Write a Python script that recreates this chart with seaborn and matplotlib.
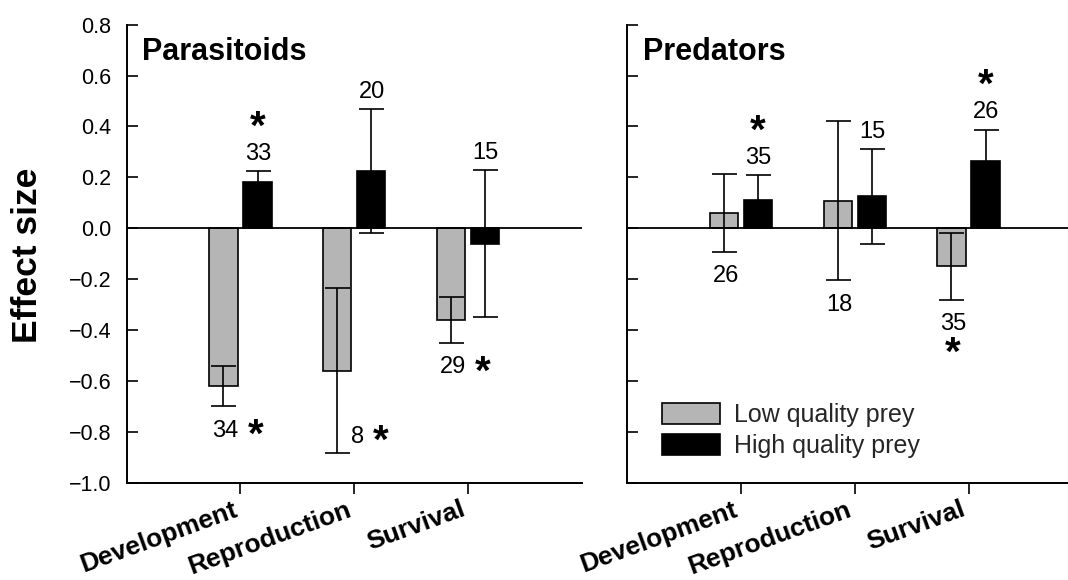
import matplotlib
matplotlib.use("Agg")
import matplotlib.pyplot as plt
import pandas as pd
import seaborn as sns

# ---- data -------------------------------------------------------------
traits = ["Development", "Reproduction", "Survival"]
qualities = ["Low quality prey", "High quality prey"]
panels = ["Parasitoids", "Predators"]

# Parasitoids: mean effect size, error half-width, number of studies, significance
para_low_mean = [-0.62, -0.56, -0.36]
para_low_err = [0.08, 0.325, 0.09]
para_high_mean = [0.18, 0.225, -0.06]
para_high_err = [0.045, 0.243, 0.287]
para_low_n = [34, 8, 29]
para_high_n = [33, 20, 15]
para_low_sig = [True, True, True]
para_high_sig = [True, False, False]

# Predators
pred_low_mean = [0.06, 0.108, -0.15]
pred_low_err = [0.152, 0.312, 0.132]
pred_high_mean = [0.113, 0.125, 0.263]
pred_high_err = [0.096, 0.187, 0.125]
pred_low_n = [26, 18, 35]
pred_high_n = [35, 15, 26]
pred_low_sig = [False, False, True]
pred_high_sig = [True, False, True]

ytick_values = [0.8, 0.6, 0.4, 0.2, 0.0, -0.2, -0.4, -0.6, -0.8, -1.0]
ytick_labels = ["0.8", "0.6", "0.4", "0.2", "0.0",
                "\u22120.2", "\u22120.4", "\u22120.6", "\u22120.8", "\u22121.0"]

# ---- style ------------------------------------------------------------
sns.set_theme(style="ticks")
plt.rcParams["font.family"] = ["Liberation Sans", "DejaVu Sans"]

GREY = "#b5b5b5"
BLACK = "#000000"
DPI = 100
W, H = 1068, 580

fig = plt.figure(figsize=(W / DPI, H / DPI), dpi=DPI)
fig.patch.set_facecolor("white")


def px(v):
    """pixels -> points"""
    return v * 72.0 / DPI


ax_w = 455 / W
ax_b = (H - 482.7) / H
ax_h = (482.7 - 24.7) / H
ax_left = fig.add_axes([126.7 / W, ax_b, ax_w, ax_h])
ax_right = fig.add_axes([627.3 / W, ax_b, ax_w, ax_h])

panel_data = {
    "Parasitoids": dict(low=(para_low_mean, para_low_err, para_low_n, para_low_sig),
                        high=(para_high_mean, para_high_err, para_high_n, para_high_sig)),
    "Predators": dict(low=(pred_low_mean, pred_low_err, pred_low_n, pred_low_sig),
                      high=(pred_high_mean, pred_high_err, pred_high_n, pred_high_sig)),
}

# where the star sits for low-quality bars, per panel
low_star_side = {"Parasitoids": "right", "Predators": "below"}
# labels placed beside the lower cap instead of below it: (panel, trait index)
beside_labels = {("Parasitoids", 1)}

NUM_SIZE = 17
STAR_SIZE = 29
num_px = NUM_SIZE * DPI / 72.0
star_px = STAR_SIZE * DPI / 72.0
DIGIT_MID = 0.358 * num_px      # visual middle of digits above baseline
STAR_MID = 0.46 * star_px       # visual middle of the asterisk above baseline


def put(ax, x, y, text, dx, dy, kind):
    """place text so its visual centre lies dx, dy pixels from (x, y)"""
    if kind == "num":
        ax.annotate(text, xy=(x, y), xytext=(px(dx), px(dy - DIGIT_MID)),
                    textcoords="offset points", ha="center", va="baseline",
                    fontsize=NUM_SIZE, color="black", annotation_clip=False)
    else:
        ax.annotate(text, xy=(x, y), xytext=(px(dx), px(dy - STAR_MID)),
                    textcoords="offset points", ha="center", va="baseline",
                    fontsize=STAR_SIZE, fontweight="bold", color="black",
                    annotation_clip=False)


for ax, panel in zip([ax_left, ax_right], panels):
    d = panel_data[panel]
    rows = []
    for q, key in zip(qualities, ["low", "high"]):
        for t, m in zip(traits, d[key][0]):
            rows.append({"trait": t, "quality": q, "effect": m})
    df = pd.DataFrame(rows)

    sns.barplot(data=df, x="trait", y="effect", hue="quality",
                order=traits, hue_order=qualities,
                palette=[GREY, BLACK], width=0.6, gap=0.17,
                edgecolor="black", linewidth=1.2, errorbar=None,
                saturation=1, ax=ax, legend=(panel == "Predators"), zorder=2)

    ax.axhline(0, color="black", lw=1.3, zorder=3)

    for ci, key in enumerate(["low", "high"]):
        means, errs, ns, sigs = d[key]
        bars = ax.containers[ci]
        xs = [b.get_x() + b.get_width() / 2 for b in bars]
        ax.errorbar(xs, means, yerr=errs, fmt="none", ecolor="black",
                    elinewidth=1.2, capsize=px(12.5), capthick=1.2, zorder=4)
        for i, (x, m, e, n, s) in enumerate(zip(xs, means, errs, ns, sigs)):
            if key == "high":
                top = m + e
                put(ax, x, top, str(n), 0.5, 19.5, "num")
                if s:
                    put(ax, x, top, "*", 0, 51, "star")
            else:
                bot = m - e
                if (panel, i) in beside_labels:
                    put(ax, x, bot, str(n), 20.5, 19, "num")
                    if s:
                        put(ax, x, bot, "*", 44, 19, "star")
                else:
                    put(ax, x, bot, str(n), 2, -22, "num")
                    if s:
                        if low_star_side[panel] == "right":
                            put(ax, x, bot, "*", 32, -22, "star")
                        else:
                            put(ax, x, bot, "*", 1, -46, "star")

    ax.set_xlim(-1, 3)
    ax.set_ylim(-1.0, 0.8)
    ax.set_yticks(ytick_values)
    ax.set_yticklabels(ytick_labels)
    ax.set_xlabel("")
    ax.set_ylabel("")
    ax.set_facecolor("white")
    for side in ["top", "right"]:
        ax.spines[side].set_visible(False)
    for side in ["left", "bottom"]:
        ax.spines[side].set_linewidth(1.4)
        ax.spines[side].set_color("black")
    ax.tick_params(axis="y", direction="in", length=px(10.5), width=1.2,
                   pad=11, labelsize=15.5, colors="black")
    ax.tick_params(axis="x", direction="out", length=px(10.5), width=1.2,
                   pad=3, labelsize=19, colors="black")
    for lab in ax.get_xticklabels():
        lab.set_fontweight("bold")
        lab.set_rotation(20)
        lab.set_ha("right")
        lab.set_rotation_mode("default")

    ax.text(0.034, 0.941, panel, transform=ax.transAxes, fontsize=22,
            fontweight="bold", ha="left", va="center", color="black")

ax_right.tick_params(axis="y", labelleft=False)

# legend inside the predators panel
handles, labels = ax_right.get_legend_handles_labels()
leg = ax_right.legend(handles, labels, loc="upper left",
                      bbox_to_anchor=(661.7 / W, (H - 403) / H),
                      bbox_transform=fig.transFigure, frameon=False,
                      fontsize=18, handlelength=2.32, handleheight=0.91,
                      handletextpad=0.57, labelspacing=0.27, borderpad=0,
                      borderaxespad=0)

fig.text(28 / W, 1 - 255.5 / H, "Effect size", rotation=90, fontsize=25.5,
         fontweight="bold", ha="center", va="center", color="black")

fig.savefig("out.png", dpi=DPI, facecolor="white")
